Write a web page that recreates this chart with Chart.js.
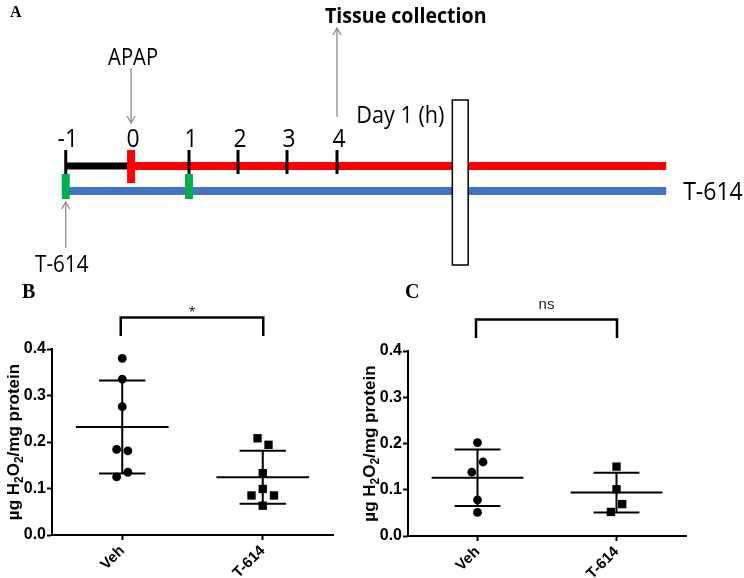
<!DOCTYPE html>
<html><head><meta charset="utf-8">
<script src="https://cdn.jsdelivr.net/npm/chart.js@4.4.1/dist/chart.umd.min.js"></script>
<style>
html,body{margin:0;padding:0;background:#fff;}
#wrap{position:relative;width:744px;height:578px;overflow:hidden;background:#fff;}
.cv{position:absolute;}
.lbl{position:absolute;font-family:"Liberation Serif","Times New Roman",serif;font-weight:bold;color:#000;line-height:1;}
</style></head><body>
<div id="wrap">
 <div class="cv" style="left:0;top:0;width:744px;height:280px"><canvas id="cA"></canvas></div>
 <div class="cv" style="left:0;top:280px;width:345px;height:298px"><canvas id="cB"></canvas></div>
 <div class="cv" style="left:330px;top:280px;width:414px;height:298px"><canvas id="cC"></canvas></div>
 <div class="lbl" style="left:10px;top:4px;font-size:16px">A</div>
 <div class="lbl" style="left:22px;top:281px;font-size:20px">B</div>
 <div class="lbl" style="left:405px;top:281px;font-size:20px">C</div>
</div>
<script>
// ---------------- DATA ----------------
// Panel A (timeline schematic)
const hourLabels = ['-1', '0', '1', '2', '3', '4'];
const hourPos    = [-1.48, -0.16, 1.01, 2.0, 2.99, 4.0];   // schematic hour positions
const timelineEnd = 10.65;
const apapDose = '0';
const t614Doses = ['-1', '1'];
const collectionTime = '4';
const breakSpan = [6.33, 6.65];

// Panels B and C
const groups = ['Veh', 'T-614'];
const yTicks = [0.0, 0.1, 0.2, 0.3, 0.4];

const bVeh        = [0.380, 0.335, 0.276, 0.184, 0.181, 0.135, 0.125];
const bVehJitter  = [0, 0, 0, -0.04, 0.04, 0.04, -0.04];
const bT614       = [0.208, 0.194, 0.133, 0.099, 0.085, 0.085, 0.063];
const bT614Jitter = [-0.037, 0.041, 0, 0, -0.08, 0.08, 0];
const bMean = [0.232, 0.124];
const bSD   = [0.100, 0.057];
const bSig  = '*';

const cVeh        = [0.202, 0.160, 0.138, 0.078, 0.051];
const cVehJitter  = [0, 0.04, -0.041, 0, 0];
const cT614       = [0.150, 0.101, 0.069, 0.052];
const cT614Jitter = [0, 0, 0.041, -0.04];
const cMean = [0.126, 0.094];
const cSD   = [0.061, 0.043];
const cSig  = 'ns';

// ---------------- PANEL A ----------------
const ROW = {line:166, t614:191, tickTop:150, tickBot:174, markTop:150, markBot:183,
  greenTop:174, greenBot:199, hour:137.5, apapText:56.5, apapArrowTop:68, apapArrowTip:123,
  tissueText:15, tissueArrowTip:28, tissueArrowBot:117, dayText:114, breakTop:100, breakBot:265,
  t614BotText:263, t614ArrowTip:202, t614ArrowBot:248};

const pos = l => hourPos[hourLabels.indexOf(l)];
function segs(list){ const d=[]; list.forEach(([a,b])=>{ d.push(a,b,{x:a.x,y:null}); }); return d; }

const tickSegs = segs(hourLabels.filter(l=>l!==apapDose).map(l=>[{x:pos(l),y:ROW.tickTop},{x:pos(l),y:ROW.tickBot}]));
const greenSegs = segs(t614Doses.map(l=>[{x:pos(l),y:ROW.greenTop},{x:pos(l),y:ROW.greenBot}]));

function ctext(ctx, str, x, yc, size, weight, align, sx){
  ctx.save();
  ctx.font = weight + ' ' + size + 'px "Open Sans", "Liberation Sans", sans-serif';
  ctx.textAlign = 'left'; ctx.textBaseline = 'alphabetic'; ctx.fillStyle = '#000';
  const w = ctx.measureText(str).width * sx;
  const x0 = align==='center' ? x - w/2 : (align==='right' ? x - w : x);
  ctx.translate(x0, yc + 0.357*size);
  ctx.scale(sx, 1);
  ctx.fillText(str, 0, 0);
  ctx.restore();
}
function arrow(ctx, x, yFrom, yTip){
  const dir = yTip > yFrom ? 1 : -1;
  ctx.save();
  ctx.strokeStyle = '#8a8a8a'; ctx.lineWidth = 1.3;
  ctx.beginPath(); ctx.moveTo(x, yFrom); ctx.lineTo(x, yTip); ctx.stroke();
  ctx.beginPath(); ctx.moveTo(x-4, yTip - dir*7); ctx.lineTo(x, yTip); ctx.lineTo(x+4, yTip - dir*7); ctx.stroke();
  ctx.restore();
}

const timelinePlugin = {
  id:'timeline',
  afterDatasetsDraw(chart){
    const {ctx, scales:{x, y}} = chart;
    const X = v => x.getPixelForValue(v), Y = v => y.getPixelForValue(v);
    // break box
    ctx.save();
    const bx = X(breakSpan[0]), bw = X(breakSpan[1]) - bx, by = Y(ROW.breakTop), bh = Y(ROW.breakBot) - by;
    ctx.fillStyle = '#fff'; ctx.fillRect(bx, by, bw, bh);
    ctx.strokeStyle = '#000'; ctx.lineWidth = 1.5; ctx.strokeRect(bx, by, bw, bh);
    ctx.restore();
    // hour labels
    hourLabels.forEach((l,i)=> ctext(ctx, l, X(hourPos[i]) + 2, Y(ROW.hour), 26, 'normal', 'center', 0.88));
    // APAP
    ctext(ctx, 'APAP', X(pos(apapDose)) + 2, Y(ROW.apapText), 23, 'normal', 'center', 0.88);
    arrow(ctx, X(pos(apapDose)), Y(ROW.apapArrowTop), Y(ROW.apapArrowTip));
    // Tissue collection
    ctext(ctx, 'Tissue collection', X(pos(collectionTime)) - 12, Y(ROW.tissueText), 22, 'bold', 'left', 0.89);
    arrow(ctx, X(pos(collectionTime)), Y(ROW.tissueArrowBot), Y(ROW.tissueArrowTip));
    // Day 1 (h)
    ctext(ctx, 'Day 1 (h)', X(breakSpan[0]) - 96, Y(ROW.dayText), 24, 'normal', 'left', 0.9);
    // T-614 labels
    ctext(ctx, 'T-614', X(timelineEnd) + 17, Y(ROW.t614), 25, 'normal', 'left', 0.92);
    ctext(ctx, 'T-614', X(pos(t614Doses[0])) - 4, Y(ROW.t614BotText), 24, 'normal', 'center', 0.86);
    arrow(ctx, X(pos(t614Doses[0])), Y(ROW.t614ArrowBot), Y(ROW.t614ArrowTip));
  }
};

new Chart(document.getElementById('cA'), {
  type:'line',
  data:{datasets:[
    {data:[{x:pos(apapDose),y:ROW.markTop},{x:pos(apapDose),y:ROW.markBot}], borderColor:'#ff0000', borderWidth:8, order:1},
    {data:greenSegs, borderColor:'#00b050', borderWidth:8, order:1},
    {data:tickSegs, borderColor:'#000', borderWidth:3, order:2},
    {data:[{x:pos('-1'),y:ROW.line},{x:pos(apapDose),y:ROW.line}], borderColor:'#000', borderWidth:7, order:4},
    {data:[{x:pos(apapDose),y:ROW.line},{x:timelineEnd,y:ROW.line}], borderColor:'#ff0000', borderWidth:8, order:4},
    {data:[{x:pos('-1'),y:ROW.t614},{x:timelineEnd,y:ROW.t614}], borderColor:'#4472c4', borderWidth:8, order:4}
  ].map(d=>Object.assign({pointRadius:0, spanGaps:false, borderCapStyle:'butt', fill:false, clip:false}, d))},
  options:{responsive:true, maintainAspectRatio:false, animation:false, events:[],
    layout:{padding:0},
    plugins:{legend:{display:false}, tooltip:{enabled:false}},
    scales:{x:{type:'linear', display:false, min:-139/49.5, max:605/49.5},
            y:{type:'linear', display:false, min:0, max:280, reverse:true}}},
  plugins:[timelinePlugin]
});

// ---------------- PANELS B & C ----------------
const annotPlugin = {
  id:'annot',
  afterDraw(chart, args, o){
    const {ctx, scales:{x, y}, chartArea} = chart;
    // y-axis title with subscripts
    const parts = [['µg H',0],['2',1],['O',0],['2',1],['/mg protein',0]];
    const main = 'bold 17px "Liberation Sans", Arial, sans-serif', sub = 'bold 12px "Liberation Sans", Arial, sans-serif';
    ctx.save();
    let total = 0;
    parts.forEach(([t,s])=>{ ctx.font = s?sub:main; total += ctx.measureText(t).width; });
    ctx.translate(chartArea.left - 33, (y.top + y.bottom)/2);
    ctx.rotate(-Math.PI/2);
    ctx.fillStyle = '#000'; ctx.textBaseline = 'alphabetic'; ctx.textAlign = 'left';
    let cx = -total/2;
    parts.forEach(([t,s])=>{ ctx.font = s?sub:main; ctx.fillText(t, cx, s?4:0); cx += ctx.measureText(t).width; });
    ctx.restore();
    // significance bracket
    const x0 = x.getPixelForValue(0) - 1.5, x1 = x.getPixelForValue(1) + 0.5;
    const yt = y.getPixelForValue(o.top), yl = y.getPixelForValue(o.leg);
    ctx.save();
    ctx.strokeStyle = '#000'; ctx.lineWidth = 2.5; ctx.lineJoin = 'miter';
    ctx.beginPath(); ctx.moveTo(x0, yl); ctx.lineTo(x0, yt); ctx.lineTo(x1, yt); ctx.lineTo(x1, yl); ctx.stroke();
    ctx.fillStyle = '#222'; ctx.textAlign = 'center'; ctx.textBaseline = 'alphabetic';
    ctx.font = o.sigFont;
    ctx.fillText(o.sig, (x0 + x1)/2, y.getPixelForValue(o.sigY));
    ctx.restore();
  }
};

function panel(id, cfg){
  const datasets = [];
  const eb = [];
  cfg.mean.forEach((m,i)=>{
    const s = cfg.sd[i];
    eb.push({x:i-0.33,y:m},{x:i+0.33,y:m},{x:i,y:null});
    eb.push({x:i-0.165,y:m+s},{x:i+0.165,y:m+s},{x:i,y:null});
    eb.push({x:i-0.165,y:m-s},{x:i+0.165,y:m-s},{x:i,y:null});
    eb.push({x:i,y:m-s},{x:i,y:m+s},{x:i,y:null});
  });
  datasets.push({type:'line', data:eb, borderColor:'#000', borderWidth:2, pointRadius:0, spanGaps:false,
    borderCapStyle:'butt', fill:false, order:2, clip:false});
  cfg.vals.forEach((arr,i)=>{
    const rect = cfg.markers[i]==='rect';
    datasets.push({type:'scatter', data:arr.map((v,k)=>({x:i+cfg.jit[i][k], y:v})),
      pointStyle:cfg.markers[i], pointRadius:rect?5.9:4.4, backgroundColor:'#000', borderColor:'#000',
      borderWidth:0, order:1, clip:false});
  });
  const tickFont = s => ({family:'"Liberation Sans", Arial, sans-serif', size:s, weight:'bold'});
  const grid = {display:true, drawOnChartArea:false, drawTicks:true, tickLength:5, tickWidth:2, color:'#000'};
  return new Chart(document.getElementById(id), {
    type:'scatter',
    data:{datasets},
    options:{responsive:true, maintainAspectRatio:false, animation:false, events:[],
      layout:{padding:{left:0, top:cfg.top, right:cfg.right, bottom:0}},
      plugins:{legend:{display:false}, tooltip:{enabled:false},
        annot:{top:0.468, leg:0.428, sig:cfg.sig, sigY:cfg.sigY, sigFont:cfg.sigFont}},
      scales:{
        x:{type:'linear', min:-0.5, max:1.5, offset:false,
          afterBuildTicks: s => { s.ticks = groups.map((g,i)=>({value:i})); },
          afterFit: s => { s.height = cfg.xH; },
          ticks:{callback: v => groups[v], minRotation:45, maxRotation:45, autoSkip:false,
            font:tickFont(15), color:'#000', padding:2},
          grid, border:{display:true, width:2, color:'#000'}},
        y:{type:'linear', min:0, max:0.4,
          afterBuildTicks: s => { s.ticks = yTicks.map(v=>({value:v})); },
          afterFit: s => { s.width = cfg.leftW; },
          ticks:{callback: v => v.toFixed(1), font:tickFont(16), color:'#000', padding:1},
          grid, border:{display:true, width:2, color:'#000'}}
      }},
    plugins:[annotPlugin]
  });
}

panel('cB', {vals:[bVeh, bT614], jit:[bVehJitter, bT614Jitter], mean:bMean, sd:bSD, sig:bSig,
  sigY:0.467, sigFont:'16px "Liberation Sans", Arial, sans-serif',
  markers:['circle','rect'], top:69, right:12, xH:43, leftW:52});
panel('cC', {vals:[cVeh, cT614], jit:[cVehJitter, cT614Jitter], mean:cMean, sd:cSD, sig:cSig,
  sigY:0.490, sigFont:'15px "Liberation Sans", Arial, sans-serif',
  markers:['circle','rect'], top:71, right:58, xH:42, leftW:78});
</script>
</body></html>
